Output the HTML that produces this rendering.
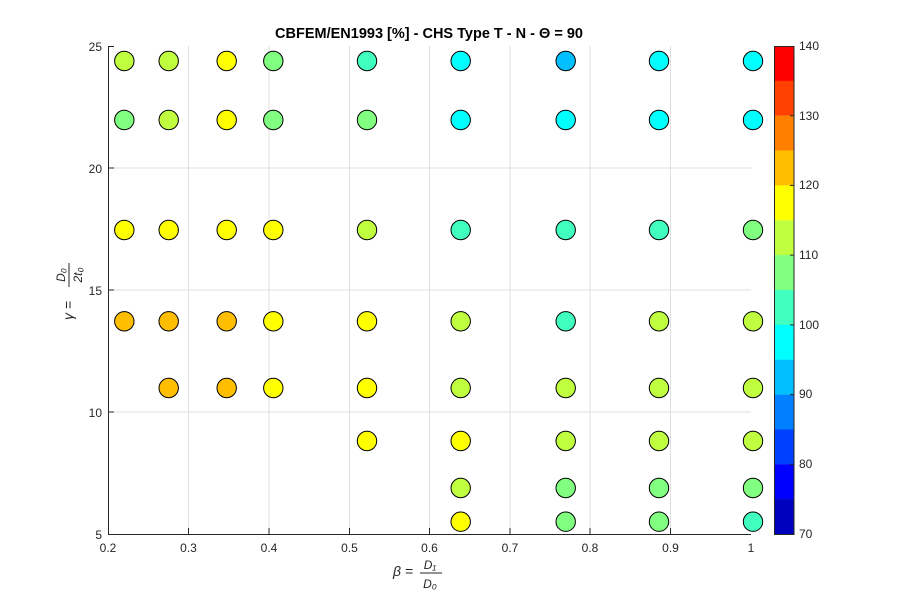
<!DOCTYPE html><html><head><meta charset="utf-8"><style>body{margin:0;background:#fff}svg{display:block}text{font-family:"Liberation Sans",sans-serif}</style></head><body>
<svg width="900" height="600" xmlns="http://www.w3.org/2000/svg">
<rect width="900" height="600" fill="#fff"/>
<g stroke="#dfdfdf" stroke-width="1">
<line x1="188.5" y1="46" x2="188.5" y2="534"/><line x1="269" y1="46" x2="269" y2="534"/><line x1="349.5" y1="46" x2="349.5" y2="534"/><line x1="429.5" y1="46" x2="429.5" y2="534"/><line x1="510" y1="46" x2="510" y2="534"/><line x1="590" y1="46" x2="590" y2="534"/><line x1="670.5" y1="46" x2="670.5" y2="534"/>
<line x1="108" y1="168" x2="751" y2="168"/><line x1="108" y1="290" x2="751" y2="290"/><line x1="108" y1="412" x2="751" y2="412"/>
</g>
<g stroke="#262626" stroke-width="1" fill="none">
<line x1="108.5" y1="46" x2="108.5" y2="534.5"/><line x1="108" y1="534.5" x2="751" y2="534.5"/>
</g>
<g stroke="#262626" stroke-width="1">
<line x1="188.5" y1="534" x2="188.5" y2="528"/><line x1="269" y1="534" x2="269" y2="528"/><line x1="349.5" y1="534" x2="349.5" y2="528"/><line x1="429.5" y1="534" x2="429.5" y2="528"/><line x1="510" y1="534" x2="510" y2="528"/><line x1="590" y1="534" x2="590" y2="528"/><line x1="670.5" y1="534" x2="670.5" y2="528"/>
<line x1="108" y1="46.5" x2="114" y2="46.5"/><line x1="108" y1="168" x2="114" y2="168"/><line x1="108" y1="290" x2="114" y2="290"/><line x1="108" y1="412" x2="114" y2="412"/>
</g>
<g font-size="12" fill="#262626" text-anchor="middle">
<text x="108" y="552">0.2</text><text x="188.5" y="552">0.3</text><text x="269" y="552">0.4</text><text x="349.5" y="552">0.5</text><text x="429.5" y="552">0.6</text><text x="510" y="552">0.7</text><text x="590" y="552">0.8</text><text x="670.5" y="552">0.9</text><text x="751" y="552">1</text>
</g>
<g font-size="12" fill="#262626" text-anchor="end">
<text x="102" y="51">25</text><text x="102" y="173">20</text><text x="102" y="295">15</text><text x="102" y="417">10</text><text x="102" y="539">5</text>
</g>
<text x="429" y="38" font-size="14.5" font-weight="bold" text-anchor="middle" fill="#000">CBFEM/EN1993 [%] - CHS Type T - N - Θ = 90</text>
<g font-family="Liberation Serif,serif" font-style="italic" fill="#262626">
<text x="393" y="576" font-size="14">β =</text>
<text x="430" y="569" font-size="12" text-anchor="middle">D₁</text>
<line x1="420" y1="573" x2="442" y2="573" stroke="#262626"/>
<text x="430" y="588" font-size="12" text-anchor="middle">D₀</text>
<g transform="translate(68,290) rotate(-90)">
<text x="-30" y="5" font-size="14">γ =</text>
<text x="15" y="-3" font-size="12" text-anchor="middle">D₀</text>
<line x1="3" y1="1" x2="27" y2="1" stroke="#262626"/>
<text x="15" y="14" font-size="12" text-anchor="middle">2t₀</text>
</g>
</g>
<g stroke="#000" stroke-width="1">
<circle cx="124.3" cy="61" r="9.7" fill="#bfff40"/><circle cx="168.7" cy="61" r="9.7" fill="#bfff40"/><circle cx="226.7" cy="61" r="9.7" fill="#ffff00"/><circle cx="273.3" cy="61" r="9.7" fill="#80ff80"/><circle cx="367" cy="61" r="9.7" fill="#40ffbf"/><circle cx="460.7" cy="61" r="9.7" fill="#00ffff"/><circle cx="565.7" cy="61" r="9.7" fill="#00bfff"/><circle cx="659" cy="61" r="9.7" fill="#00ffff"/><circle cx="753" cy="61" r="9.7" fill="#00ffff"/>
<circle cx="124.3" cy="120" r="9.7" fill="#80ff80"/><circle cx="168.7" cy="120" r="9.7" fill="#bfff40"/><circle cx="226.7" cy="120" r="9.7" fill="#ffff00"/><circle cx="273.3" cy="120" r="9.7" fill="#80ff80"/><circle cx="367" cy="120" r="9.7" fill="#80ff80"/><circle cx="460.7" cy="120" r="9.7" fill="#00ffff"/><circle cx="565.7" cy="120" r="9.7" fill="#00ffff"/><circle cx="659" cy="120" r="9.7" fill="#00ffff"/><circle cx="753" cy="120" r="9.7" fill="#00ffff"/>
<circle cx="124.3" cy="230" r="9.7" fill="#ffff00"/><circle cx="168.7" cy="230" r="9.7" fill="#ffff00"/><circle cx="226.7" cy="230" r="9.7" fill="#ffff00"/><circle cx="273.3" cy="230" r="9.7" fill="#ffff00"/><circle cx="367" cy="230" r="9.7" fill="#bfff40"/><circle cx="460.7" cy="230" r="9.7" fill="#40ffbf"/><circle cx="565.7" cy="230" r="9.7" fill="#40ffbf"/><circle cx="659" cy="230" r="9.7" fill="#40ffbf"/><circle cx="753" cy="230" r="9.7" fill="#80ff80"/>
<circle cx="124.3" cy="321.3" r="9.7" fill="#ffbf00"/><circle cx="168.7" cy="321.3" r="9.7" fill="#ffbf00"/><circle cx="226.7" cy="321.3" r="9.7" fill="#ffbf00"/><circle cx="273.3" cy="321.3" r="9.7" fill="#ffff00"/><circle cx="367" cy="321.3" r="9.7" fill="#ffff00"/><circle cx="460.7" cy="321.3" r="9.7" fill="#bfff40"/><circle cx="565.7" cy="321.3" r="9.7" fill="#40ffbf"/><circle cx="659" cy="321.3" r="9.7" fill="#bfff40"/><circle cx="753" cy="321.3" r="9.7" fill="#bfff40"/>
<circle cx="168.7" cy="388" r="9.7" fill="#ffbf00"/><circle cx="226.7" cy="388" r="9.7" fill="#ffbf00"/><circle cx="273.3" cy="388" r="9.7" fill="#ffff00"/><circle cx="367" cy="388" r="9.7" fill="#ffff00"/><circle cx="460.7" cy="388" r="9.7" fill="#bfff40"/><circle cx="565.7" cy="388" r="9.7" fill="#bfff40"/><circle cx="659" cy="388" r="9.7" fill="#bfff40"/><circle cx="753" cy="388" r="9.7" fill="#bfff40"/>
<circle cx="367" cy="441" r="9.7" fill="#ffff00"/><circle cx="460.7" cy="441" r="9.7" fill="#ffff00"/><circle cx="565.7" cy="441" r="9.7" fill="#bfff40"/><circle cx="659" cy="441" r="9.7" fill="#bfff40"/><circle cx="753" cy="441" r="9.7" fill="#bfff40"/>
<circle cx="460.7" cy="488" r="9.7" fill="#bfff40"/><circle cx="565.7" cy="488" r="9.7" fill="#80ff80"/><circle cx="659" cy="488" r="9.7" fill="#80ff80"/><circle cx="753" cy="488" r="9.7" fill="#80ff80"/>
<circle cx="460.7" cy="521.7" r="9.7" fill="#ffff00"/><circle cx="565.7" cy="521.7" r="9.7" fill="#80ff80"/><circle cx="659" cy="521.7" r="9.7" fill="#80ff80"/><circle cx="753" cy="521.7" r="9.7" fill="#40ffbf"/>
</g>
<g>
<rect x="774" y="46" width="20" height="35" fill="#ff0000"/>
<rect x="774" y="80.8" width="20" height="35" fill="#ff4000"/>
<rect x="774" y="115.7" width="20" height="35" fill="#ff8000"/>
<rect x="774" y="150.6" width="20" height="35" fill="#ffbf00"/>
<rect x="774" y="185.4" width="20" height="35" fill="#ffff00"/>
<rect x="774" y="220.3" width="20" height="35" fill="#bfff40"/>
<rect x="774" y="255.1" width="20" height="35" fill="#80ff80"/>
<rect x="774" y="290" width="20" height="35" fill="#40ffbf"/>
<rect x="774" y="324.9" width="20" height="35" fill="#00ffff"/>
<rect x="774" y="359.7" width="20" height="35" fill="#00bfff"/>
<rect x="774" y="394.6" width="20" height="35" fill="#0080ff"/>
<rect x="774" y="429.4" width="20" height="35" fill="#0040ff"/>
<rect x="774" y="464.3" width="20" height="35" fill="#0000ff"/>
<rect x="774" y="499.1" width="20" height="35" fill="#0000bf"/>
<rect x="774.5" y="46.5" width="19.5" height="488" fill="none" stroke="#262626"/>
<g stroke="#262626"><line x1="790" y1="115.7" x2="794" y2="115.7"/><line x1="790" y1="185.4" x2="794" y2="185.4"/><line x1="790" y1="255.1" x2="794" y2="255.1"/><line x1="790" y1="324.9" x2="794" y2="324.9"/><line x1="790" y1="394.6" x2="794" y2="394.6"/><line x1="790" y1="464.3" x2="794" y2="464.3"/></g>
</g>
<g font-size="12" fill="#262626">
<text x="799" y="50">140</text><text x="799" y="120">130</text><text x="799" y="189">120</text><text x="799" y="259">110</text><text x="799" y="329">100</text><text x="799" y="398">90</text><text x="799" y="468">80</text><text x="799" y="538">70</text>
</g>
</svg></body></html>
